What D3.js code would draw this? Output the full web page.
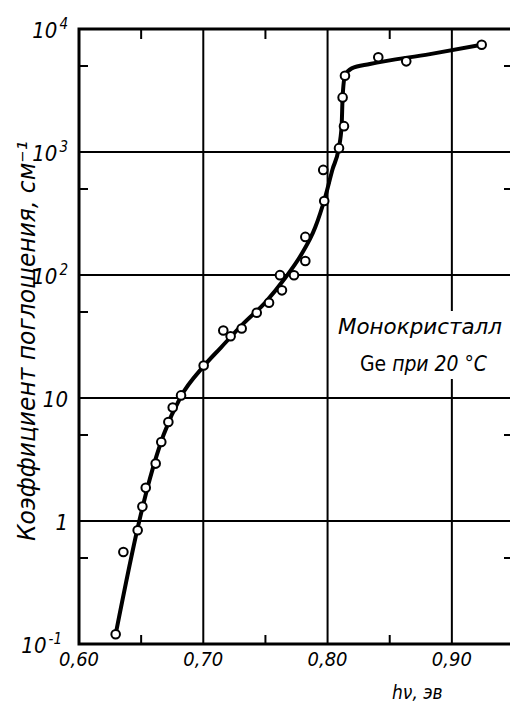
<!DOCTYPE html>
<html>
<head>
<meta charset="utf-8">
<script src="https://cdn.jsdelivr.net/npm/d3@7"></script>
<style>
  body { margin: 0; background: #fff; }
  svg { display: block; }
  text { font-family: "Liberation Sans Narrow", "DejaVu Sans Condensed", "Liberation Sans", sans-serif; font-style: italic; fill: #000; }
</style>
</head>
<body>
<div id="container"></div>
<script>
/**
 * CONSTANTS AND GLOBALS
 * */
const width = 510,
  height = 704,
  margin = { top: 29, bottom: 60, left: 79, right: -4 };

// measured points, [hν (эв), коэффициент (см^-1)]
const pointsX = [0.6295, 0.6357, 0.6472, 0.651, 0.6537, 0.6617, 0.6662, 0.6719, 0.6754, 0.6821,
  0.7003, 0.7161, 0.722, 0.7309, 0.743, 0.7529, 0.7633, 0.7617, 0.773, 0.7821, 0.7821,
  0.7973, 0.7965, 0.8092, 0.8132, 0.8121, 0.814, 0.8408, 0.8633, 0.924];
const pointsY = [0.12, 0.56, 0.84, 1.31, 1.86, 2.93, 4.39, 6.38, 8.36, 10.5,
  18.4, 35.4, 31.8, 36.7, 49.3, 59.4, 75, 99.7, 99.4, 130, 204,
  400, 715, 1075, 1622, 2780, 4170, 5890, 5460, 7450];

// the drawn curve through them
const curveX = [0.6295, 0.6485, 0.657, 0.668, 0.682, 0.700, 0.714, 0.732, 0.750, 0.766, 0.778,
  0.790, 0.798, 0.804, 0.809, 0.8113, 0.8121, 0.814, 0.8194, 0.834, 0.8824, 0.924];
const curveY = [0.12, 1.0, 2.2, 5.0, 10.3, 18.0, 25.6, 40, 60, 95, 142,
  243, 427, 724, 1075, 1620, 2780, 4170, 4786, 5190, 6250, 7450];

const xGrid = [0.70, 0.80, 0.90];
const xMinor = [0.65, 0.75, 0.85];
const xTickLabels = ["0,60", "0,70", "0,80", "0,90"];
const xTickValues = [0.60, 0.70, 0.80, 0.90];
const yGrid = [1, 10, 100, 1000];
const yMinor = [0.5, 5, 50, 500, 5000];
const yTickValues = [0.1, 1, 10, 100, 1000, 10000];
const yTickBase = ["10", "1", "10", "10", "10", "10"];
const yTickExp = ["-1", "", "", "2", "3", "4"];

/**
 * INIT
 * */
function init() {
  const x = d3.scaleLinear()
    .domain([0.60, 0.95])
    .range([margin.left, width - margin.right]);
  const y = d3.scaleLog()
    .domain([0.1, 10000])
    .range([height - margin.bottom, margin.top]);

  const svg = d3.select("#container")
    .append("svg")
    .attr("width", width)
    .attr("height", height);

  const x0 = x.range()[0], x1 = x.range()[1];
  const y0 = y.range()[0], y1 = y.range()[1];

  // grid
  svg.selectAll(".vgrid")
    .data(xGrid)
    .join("line")
    .attr("x1", d => x(d)).attr("x2", d => x(d))
    .attr("y1", y1).attr("y2", y0)
    .attr("stroke", "#000").attr("stroke-width", 2);

  svg.selectAll(".hgrid")
    .data(yGrid)
    .join("line")
    .attr("x1", x0).attr("x2", x1)
    .attr("y1", d => y(d)).attr("y2", d => y(d))
    .attr("stroke", "#000").attr("stroke-width", 2);

  // frame
  svg.append("rect")
    .attr("x", x0).attr("y", y1)
    .attr("width", x1 - x0).attr("height", y0 - y1)
    .attr("fill", "none")
    .attr("stroke", "#000").attr("stroke-width", 3);

  // minor ticks, bottom and top
  svg.selectAll(".xtick-b")
    .data(xMinor)
    .join("line")
    .attr("x1", d => x(d)).attr("x2", d => x(d))
    .attr("y1", y0).attr("y2", y0 - 9)
    .attr("stroke", "#000").attr("stroke-width", 2);
  svg.selectAll(".xtick-t")
    .data(xMinor)
    .join("line")
    .attr("x1", d => x(d)).attr("x2", d => x(d))
    .attr("y1", y1).attr("y2", y1 + 10)
    .attr("stroke", "#000").attr("stroke-width", 2);

  // minor ticks, left and right
  svg.selectAll(".ytick-l")
    .data(yMinor)
    .join("line")
    .attr("x1", x0).attr("x2", x0 + 9)
    .attr("y1", d => y(d)).attr("y2", d => y(d))
    .attr("stroke", "#000").attr("stroke-width", 2);
  svg.selectAll(".ytick-r")
    .data(yMinor)
    .join("line")
    .attr("x1", x1).attr("x2", x1 - 10)
    .attr("y1", d => y(d)).attr("y2", d => y(d))
    .attr("stroke", "#000").attr("stroke-width", 2);

  // label box (white patch over grid)
  svg.append("rect")
    .attr("x", 335).attr("y", 311)
    .attr("width", 175).attr("height", 68)
    .attr("fill", "#fff");

  svg.append("text")
    .attr("x", 338).attr("y", 334)
    .attr("font-size", 22)
    .attr("textLength", 164)
    .attr("lengthAdjust", "spacingAndGlyphs")
    .text("Монокристалл");
  const t2 = svg.append("text")
    .attr("x", 360).attr("y", 371)
    .attr("font-size", 22)
    .attr("textLength", 127)
    .attr("lengthAdjust", "spacingAndGlyphs");
  t2.append("tspan").attr("font-style", "normal").text("Ge");
  t2.append("tspan").text(" при 20 °C");

  // curve
  const line = d3.line()
    .x(d => x(d[0]))
    .y(d => y(d[1]))
    .curve(d3.curveMonotoneX);

  svg.append("path")
    .datum(d3.zip(curveX, curveY))
    .attr("d", line)
    .attr("fill", "none")
    .attr("stroke", "#000")
    .attr("stroke-width", 4)
    .attr("stroke-linejoin", "round");

  // points
  svg.selectAll("circle")
    .data(d3.zip(pointsX, pointsY))
    .join("circle")
    .attr("cx", d => x(d[0]))
    .attr("cy", d => y(d[1]))
    .attr("r", 4.3)
    .attr("fill", "#fff")
    .attr("stroke", "#000")
    .attr("stroke-width", 2);

  // x tick labels
  svg.selectAll(".xlabel")
    .data(xTickValues)
    .join("text")
    .attr("x", d => x(d))
    .attr("y", y0 + 22)
    .attr("text-anchor", "middle")
    .attr("font-size", 20)
    .attr("textLength", 40)
    .attr("lengthAdjust", "spacingAndGlyphs")
    .text((d, i) => xTickLabels[i]);

  // y tick labels
  const yl = svg.selectAll(".ylabel")
    .data(yTickValues)
    .join("text")
    .attr("x", (d, i) => yTickExp[i] === "-1" ? 62 : 68)
    .attr("y", d => y(d) + 9)
    .attr("text-anchor", "end")
    .attr("font-size", 22);
  yl.append("tspan").text((d, i) => yTickBase[i]);
  yl.append("tspan")
    .attr("dy", -9)
    .attr("dx", 2)
    .attr("font-size", 15)
    .text((d, i) => yTickExp[i]);

  // axis titles
  svg.append("text")
    .attr("transform", `translate(35, ${341}) rotate(-90)`)
    .attr("text-anchor", "middle")
    .attr("font-size", 25)
    .attr("textLength", 400)
    .attr("lengthAdjust", "spacingAndGlyphs")
    .text("Коэффициент поглощения, см⁻¹");

  svg.append("text")
    .attr("x", 392).attr("y", 699)
    .attr("font-size", 19)
    .text("hν, эв");
}

init();
</script>
</body>
</html>
